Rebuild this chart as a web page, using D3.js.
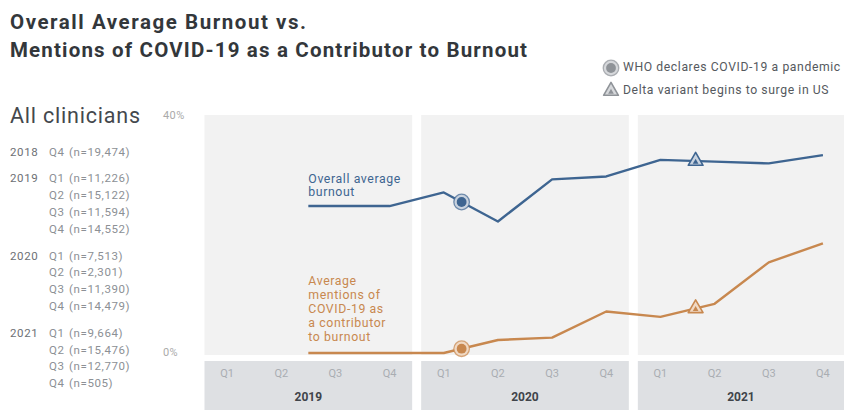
<!DOCTYPE html>
<html><head><meta charset="utf-8">
<script src="https://cdn.jsdelivr.net/npm/d3@7"></script>
<style>body{margin:0;background:#fff} svg{display:block} text{font-family:Roboto, "Open Sans", sans-serif}</style>
</head><body><svg id="c" width="844" height="410"></svg>
<script>
// ---- data ----
const years = ["2019", "2020", "2021"];
const quarterLabels = ["Q1", "Q2", "Q3", "Q4"];
const burnout =       [null, null, 24.8, 24.8, 27.1, 22.2, 29.3, 29.8, 32.6, 32.3, 32.0, 33.4];
const covidMentions = [null, null, 0.0,  0.0,  0.0,  2.2,  2.6,  7.0,  6.1,  8.3,  15.3, 18.5];
const yTicks = [0, 40];
const events = [
  {name: "WHO declares COVID-19 a pandemic", at: 4.33, shape: "circle"},
  {name: "Delta variant begins to surge in US", at: 8.65, shape: "triangle"}
];
const sampleYears = ["2018", "2019", "2020", "2021"];
const sampleQuarters = [["Q4"], ["Q1","Q2","Q3","Q4"], ["Q1","Q2","Q3","Q4"], ["Q1","Q2","Q3","Q4"]];
const sampleN = [["19,474"], ["11,226","15,122","11,594","14,552"], ["7,513","2,301","11,390","14,479"], ["9,664","15,476","12,770","505"]];
const seriesNames = [["Overall average", "burnout"], ["Average", "mentions of", "COVID-19 as", "a contributor", "to burnout"]];

// ---- chart ----
const BLUE = "#3e6591", ORANGE = "#c8884f";
const svg = d3.select("#c");
const x = d3.scaleLinear().domain([-0.5, 11.5]).range([200, 850]);
const y = d3.scaleLinear().domain([0, 40]).range([353, 116]);
const GAP = 9;

// title
svg.append("text").attr("x", 10).attr("y", 29).attr("font-size", 20.5).attr("font-weight", 700).attr("fill", "#33373b")
  .attr("textLength", 296).attr("lengthAdjust", "spacing").text("Overall Average Burnout vs.");
svg.append("text").attr("x", 10).attr("y", 57).attr("font-size", 20.5).attr("font-weight", 700).attr("fill", "#33373b")
  .attr("textLength", 517).attr("lengthAdjust", "spacing").text("Mentions of COVID-19 as a Contributor to Burnout");

// panels
years.forEach((yr, k) => {
  const x0 = x(4 * k - 0.5) + GAP / 2, x1 = Math.min(x(4 * k + 3.5) - GAP / 2, 844);
  svg.append("rect").attr("x", x0).attr("y", 115).attr("width", x1 - x0).attr("height", 240).attr("fill", "#f2f2f2");
  svg.append("rect").attr("x", x0).attr("y", 361).attr("width", x1 - x0).attr("height", 49).attr("fill", "#dee0e3");
  quarterLabels.forEach((q, j) => {
    svg.append("text").attr("x", x(4 * k + j)).attr("y", 374).attr("text-anchor", "middle").attr("dominant-baseline", "middle")
      .attr("font-size", 11).attr("fill", "#a9adb2").text(q);
  });
  svg.append("text").attr("x", (x0 + x1) / 2).attr("y", 398).attr("text-anchor", "middle").attr("dominant-baseline", "middle")
    .attr("font-size", 12).attr("font-weight", 700).attr("fill", "#40444a").text(yr);
});

// y labels
yTicks.forEach(t => {
  svg.append("text").attr("x", 163).attr("y", y(t)).attr("dominant-baseline", "middle").attr("font-size", 11)
    .attr("letter-spacing", 0.4).attr("fill", "#aaaaaa").text(t + "%");
});

// left panel
svg.append("text").attr("x", 10).attr("y", 117).attr("dominant-baseline", "middle").attr("font-size", 21.5).attr("fill", "#44484d")
  .attr("textLength", 130).attr("lengthAdjust", "spacing").text("All clinicians");
let rowY = 153;
sampleYears.forEach((yr, g) => {
  svg.append("text").attr("x", 10).attr("y", rowY).attr("dominant-baseline", "middle").attr("font-size", 11.5).attr("letter-spacing", 0.6).attr("fill", "#6d7075").text(yr);
  sampleQuarters[g].forEach((q, j) => {
    svg.append("text").attr("x", 49).attr("y", rowY).attr("dominant-baseline", "middle").attr("font-size", 11.5).attr("letter-spacing", 0.6).attr("fill", "#8c9095").text(q);
    svg.append("text").attr("x", 69).attr("y", rowY).attr("dominant-baseline", "middle").attr("font-size", 11.5).attr("letter-spacing", 0.6).attr("fill", "#8c9095").text("(n=" + sampleN[g][j] + ")");
    rowY += 16.9;
  });
  rowY += 9.5;
});

// series
function points(vals) {
  const p = [];
  vals.forEach((v, i) => { if (v != null) p.push({i, v}); });
  p.unshift({i: p[0].i - 0.5, v: p[0].v});
  return p;
}
function valueAt(vals, t) {
  const a = Math.floor(t), b = Math.ceil(t);
  return vals[a] + (vals[b] - vals[a]) * (t - a);
}
const line = d3.line().x(d => x(d.i)).y(d => y(d.v));
const series = [{vals: burnout, color: BLUE}, {vals: covidMentions, color: ORANGE}];
series.forEach((s, si) => {
  const p = points(s.vals);
  svg.append("path").datum(p).attr("d", line).attr("fill", "none").attr("stroke", s.color).attr("stroke-width", 2.4).attr("stroke-linejoin", "round");
  // labels
  const lx = x(p[0].i);
  const names = seriesNames[si];
  const lineH = si === 0 ? 13 : 14;
  const lastY = y(p[0].v) - (si === 0 ? 13 : 15);
  names.forEach((n, k) => {
    svg.append("text").attr("x", lx).attr("y", lastY - (names.length - 1 - k) * lineH).attr("dominant-baseline", "middle")
      .attr("font-size", 12.3).attr("letter-spacing", 0.6).attr("fill", s.color).text(n);
  });
});

function drawMarker(g, shape, cx, cy, color, light) {
  if (shape === "circle") {
    g.append("circle").attr("cx", cx).attr("cy", cy).attr("r", 7.8).attr("fill", light).attr("stroke", color).attr("stroke-width", 1.3).attr("stroke-opacity", 0.7);
    g.append("circle").attr("cx", cx).attr("cy", cy).attr("r", 4.9).attr("fill", color);
  } else {
    const tri = (s) => d3.symbol().type(d3.symbolTriangle).size(s)();
    g.append("path").attr("d", tri(95)).attr("transform", `translate(${cx},${cy})`).attr("fill", light).attr("stroke", color).attr("stroke-width", 1.6).attr("stroke-linejoin", "round");
    g.append("path").attr("d", tri(14)).attr("transform", `translate(${cx},${cy + 1})`).attr("fill", color);
  }
}
events.forEach(ev => {
  series.forEach(s => {
    drawMarker(svg, ev.shape, x(ev.at), y(valueAt(s.vals, ev.at)), s.color, s.color === BLUE ? "#c9d3df" : "#f0d9c4");
  });
});

// legend
events.forEach((ev, k) => {
  const ly = 68 + k * 23;
  drawMarker(svg, ev.shape, 611, ly, "#8f9398", "#d6d8db");
  svg.append("text").attr("x", 623).attr("y", ly).attr("dominant-baseline", "middle").attr("font-size", 12.2)
    .attr("letter-spacing", 0.6).attr("fill", "#55595e").text(ev.name);
});
</script></body></html>
